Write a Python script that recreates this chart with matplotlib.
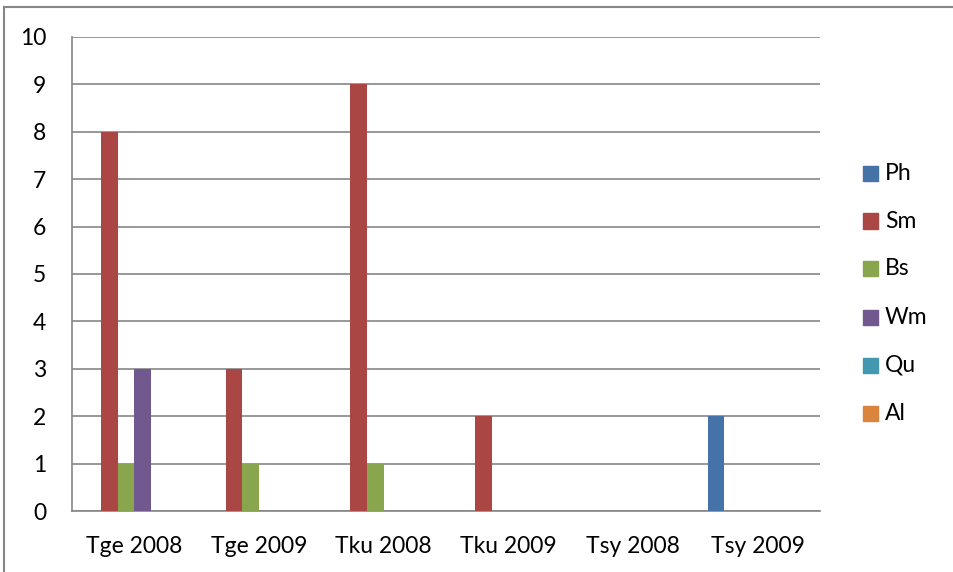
import matplotlib.pyplot as plt
import numpy as np
from matplotlib.lines import Line2D

plt.rcParams['font.family'] = ['Lato', 'DejaVu Sans']

categories = ['Tge 2008', 'Tge 2009', 'Tku 2008', 'Tku 2009', 'Tsy 2008', 'Tsy 2009']
series = ['Ph', 'Sm', 'Bs', 'Wm', 'Qu', 'Al']
ph = [0, 0, 0, 0, 0, 2]
sm = [8, 3, 9, 2, 0, 0]
bs = [1, 1, 1, 0, 0, 0]
wm = [3, 0, 0, 0, 0, 0]
qu = [0, 0, 0, 0, 0, 0]
al = [0, 0, 0, 0, 0, 0]
values = [ph, sm, bs, wm, qu, al]
colors = ['#4572A7', '#AA4643', '#89A54E', '#71588F', '#4198AF', '#DB843D']

W, H = 954, 572
fig = plt.figure(figsize=(W / 100, H / 100), dpi=100)
ax = fig.add_axes([72 / W, 1 - 511 / H, (820 - 72) / W, (511 - 37) / H])

x = np.arange(len(categories))
width = 1 / 7.5  # 150% gap between clusters
for i, (name, vals, c) in enumerate(zip(series, values, colors)):
    ax.bar(x + (i - 2.5) * width, vals, width=width, color=c, label=name, zorder=3)

ax.set_xlim(-0.5, len(categories) - 0.5)
ax.set_ylim(0, 10)
ax.set_yticks(range(0, 11))
ax.set_xticks(x)
ax.set_xticklabels(categories)
ax.tick_params(axis='both', length=0, labelsize=16.5, colors='black')
ax.tick_params(axis='y', pad=18.5)
ax.tick_params(axis='x', pad=18)
ax.grid(axis='y', color='#868686', linewidth=1.2, zorder=0)
for s in ['top', 'right']:
    ax.spines[s].set_visible(False)
ax.spines['left'].set_color('#868686')
ax.spines['bottom'].set_color('#868686')
ax.spines['left'].set_linewidth(1.2)
ax.spines['bottom'].set_linewidth(1.2)

# legend on the right, one row per series
for i, (name, c) in enumerate(zip(series, colors)):
    yc = 173 + 48 * i
    fig.patches.append(plt.Rectangle((863 / W, 1 - (yc + 7.5) / H), 15 / W, 15 / H,
                                     transform=fig.transFigure, color=c))
    fig.text(885 / W, 1 - yc / H, name, fontsize=16.5, va='center', ha='left')

# chart area border
fig.add_artist(Line2D([4 / W, 4 / W], [0, 1 - 7 / H], color='#868686', lw=1.5))
fig.add_artist(Line2D([4 / W, 1], [1 - 7 / H, 1 - 7 / H], color='#868686', lw=1.5))

fig.savefig('out.png', dpi=100)
